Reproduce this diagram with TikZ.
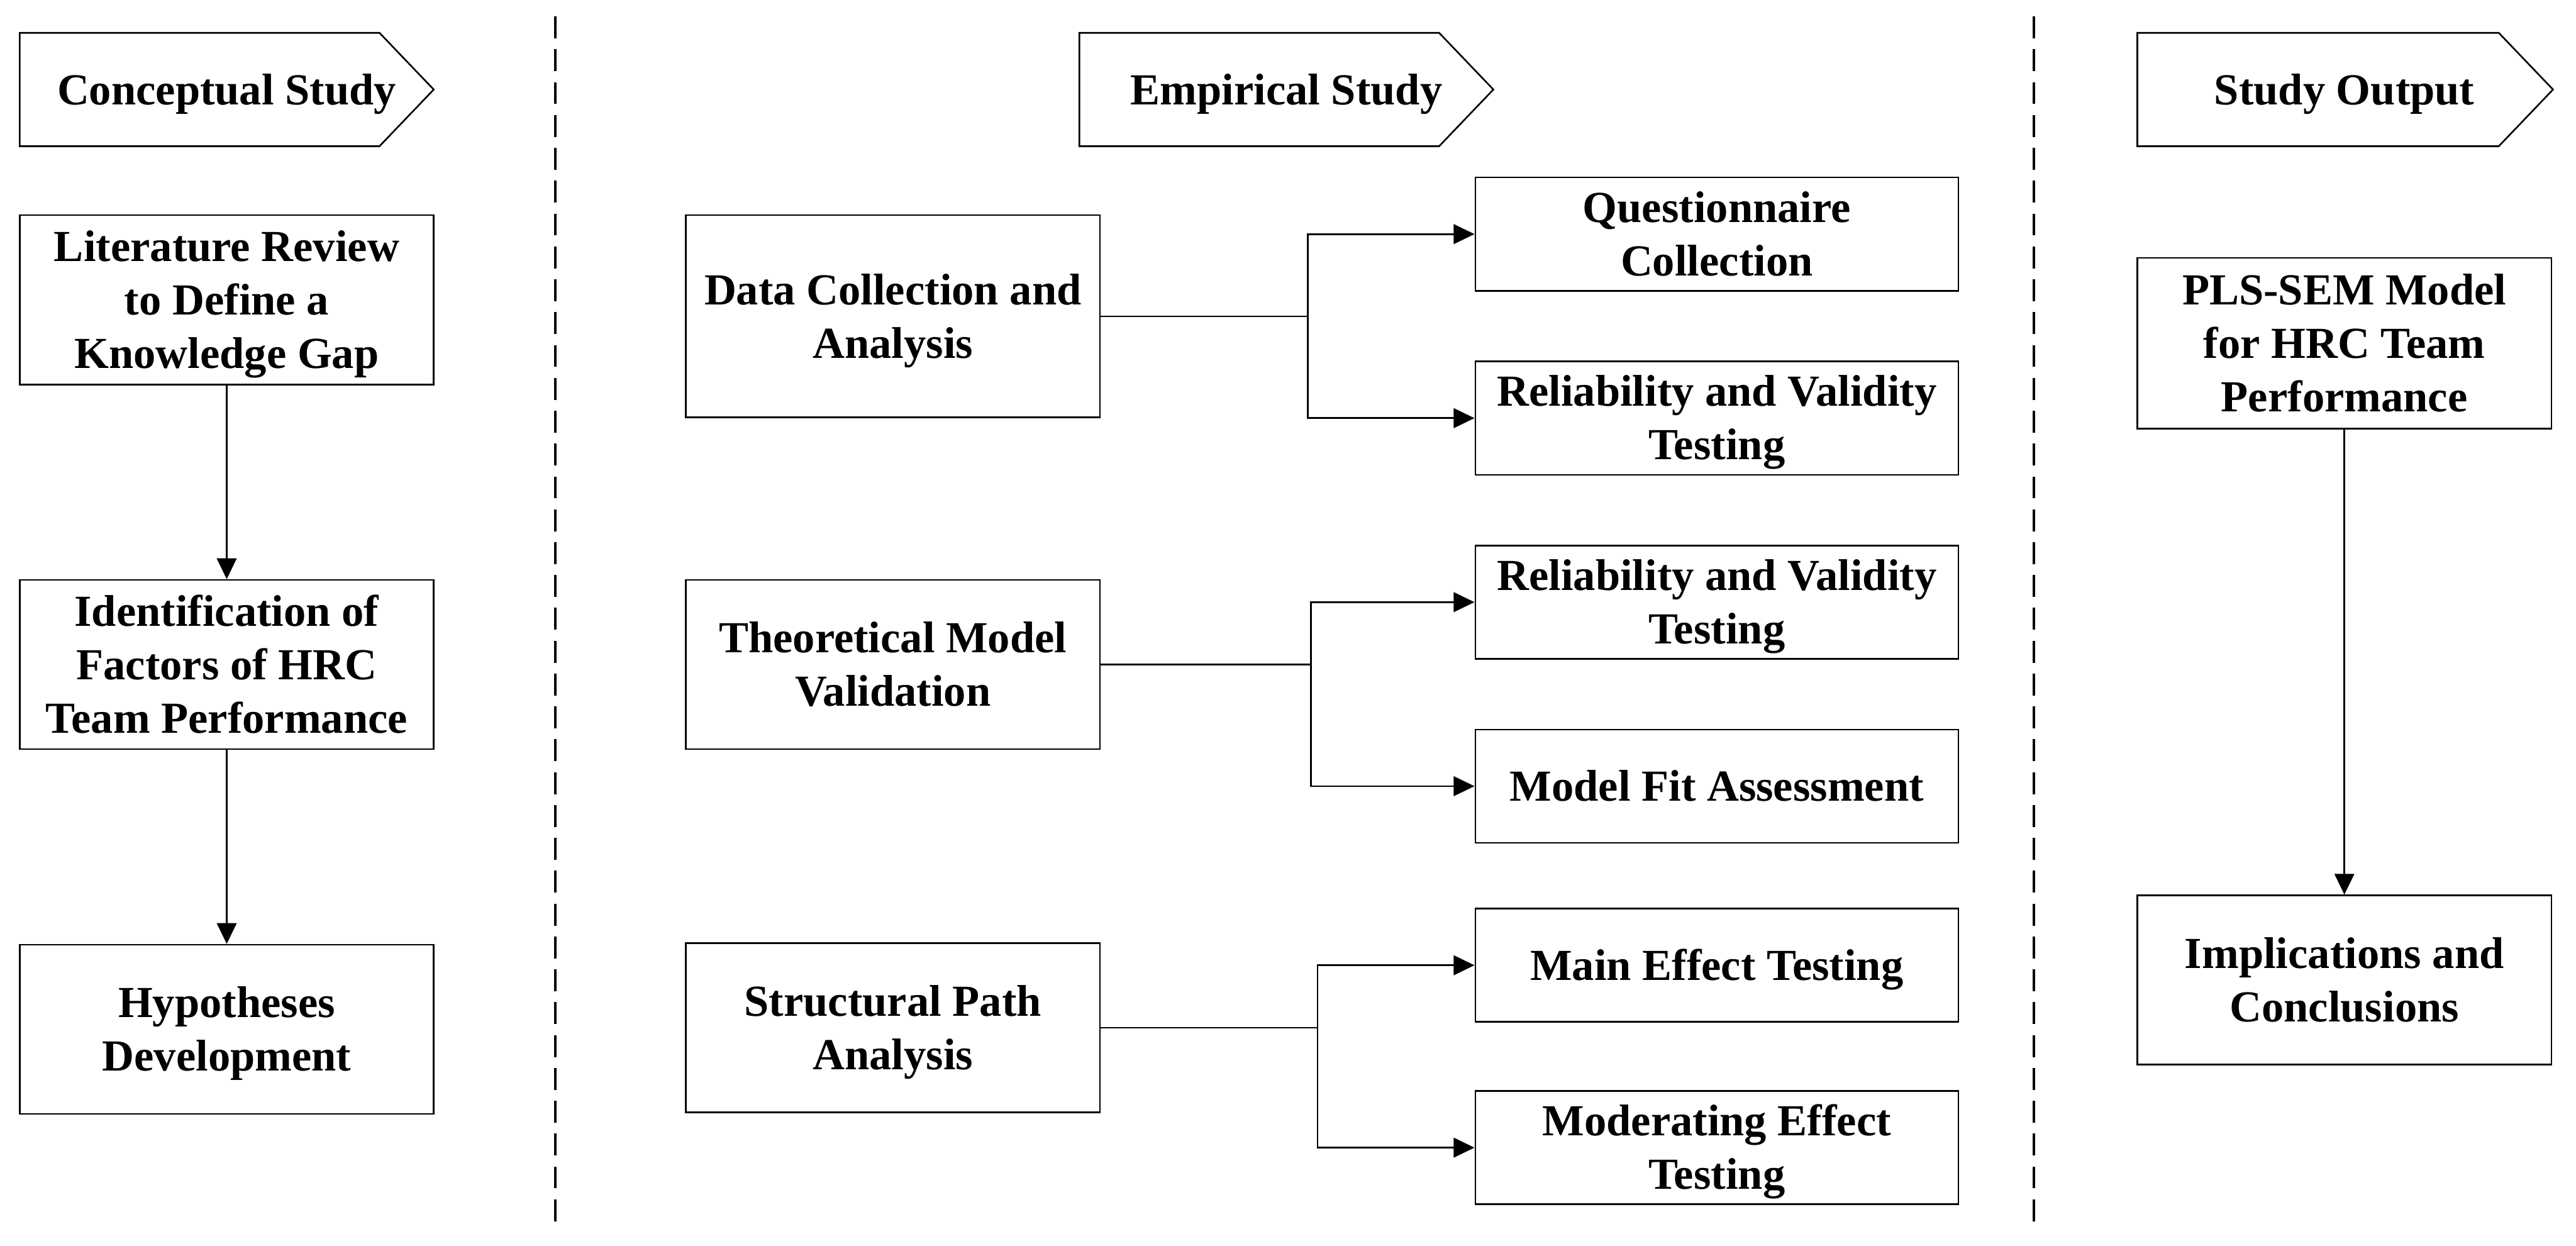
\documentclass[tikz,border=0pt]{standalone}
\usepackage{fontspec}
\setmainfont{Liberation Serif}
\usetikzlibrary{arrows.meta}
\newcommand{\bxt}[1]{\rule{0pt}{7.2pt}#1\rule[-1.75pt]{0pt}{0pt}}
\begin{document}
\begin{tikzpicture}[x=0.3pt,y=-0.3pt,
  txt/.style={font=\fontsize{8.1}{9.75}\selectfont\bfseries,align=center,inner sep=0pt},
  box/.style={txt,draw,line width=0.3pt,minimum width=75.6pt,minimum height=30.9pt},
  rbox/.style={txt,draw,line width=0.3pt,minimum width=88.2pt,minimum height=20.7pt},
  hdr/.style={draw,line width=0.3pt},
  conn/.style={line width=0.3pt},
  arr/.style={conn,-{Triangle[length=3.8pt,width=3.6pt]}},
  sep/.style={line width=0.45pt,dash pattern=on 4pt off 2pt}]
\useasboundingbox (0,0) rectangle (1568,758);
% separators
\draw[sep] (338,10) -- (338,748);
\draw[sep] (1238,10) -- (1238,748);
% headers
\draw[hdr] (12,20) -- (231,20) -- (264,54.5) -- (231,89) -- (12,89) -- cycle;
\node[txt] (h1) at (138,54.5) {\bxt{Conceptual Study}};
\draw[hdr] (657,20) -- (876,20) -- (909,54.5) -- (876,89) -- (657,89) -- cycle;
\node[txt] (h2) at (783,54.5) {\bxt{Empirical Study}};
\draw[hdr] (1301,20) -- (1521,20) -- (1554,54.5) -- (1521,89) -- (1301,89) -- cycle;
\node[txt] (h3) at (1427,54.5) {\bxt{Study Output}};
% left column
\node[box] (L1) at (138,182.5) {\bxt{Literature Review\\to Define a\\Knowledge Gap}};
\node[box] (L2) at (138,404.5) {\bxt{Identification of\\Factors of HRC\\Team Performance}};
\node[box] (L3) at (138,626.5) {\bxt{Hypotheses\\Development}};
\draw[arr] (L1) -- (L2);
\draw[arr] (L2) -- (L3);
% middle column
\node[box,minimum height=36.9pt] (DC) at (543.5,192.5) {\bxt{Data Collection and\\Analysis}};
\node[box] (TMV) at (543.5,404.5) {\bxt{Theoretical Model\\Validation}};
\node[box] (SPA) at (543.5,625.5) {\bxt{Structural Path\\Analysis}};
\node[rbox] (Q) at (1045,142.5) {\bxt{Questionnaire\\Collection}};
\node[rbox] (RV1) at (1045,254.5) {\bxt{Reliability and Validity\\Testing}};
\node[rbox] (RV2) at (1045,366.5) {\bxt{Reliability and Validity\\Testing}};
\node[rbox] (MF) at (1045,478.5) {\bxt{Model Fit Assessment}};
\node[rbox] (ME) at (1045,587.5) {\bxt{Main Effect Testing}};
\node[rbox] (MO) at (1045,698.5) {\bxt{Moderating Effect\\Testing}};
\coordinate (b1) at (796,192.5);
\coordinate (b2) at (798,404.5);
\coordinate (b3) at (802,625.5);
\draw[conn] (DC.east) -- (b1);
\draw[arr] (b1) |- (Q.west);
\draw[arr] (b1) |- (RV1.west);
\draw[conn] (TMV.east) -- (b2);
\draw[arr] (b2) |- (RV2.west);
\draw[arr] (b2) |- (MF.west);
\draw[conn] (SPA.east) -- (b3);
\draw[arr] (b3) |- (ME.west);
\draw[arr] (b3) |- (MO.west);
% right column
\node[box,minimum height=31.2pt] (PLS) at (1427,209) {\bxt{PLS-SEM Model\\for HRC Team\\Performance}};
\node[box] (IMP) at (1427,596.5) {\bxt{Implications and\\Conclusions}};
\draw[arr] (PLS) -- (IMP);
\end{tikzpicture}
\end{document}
